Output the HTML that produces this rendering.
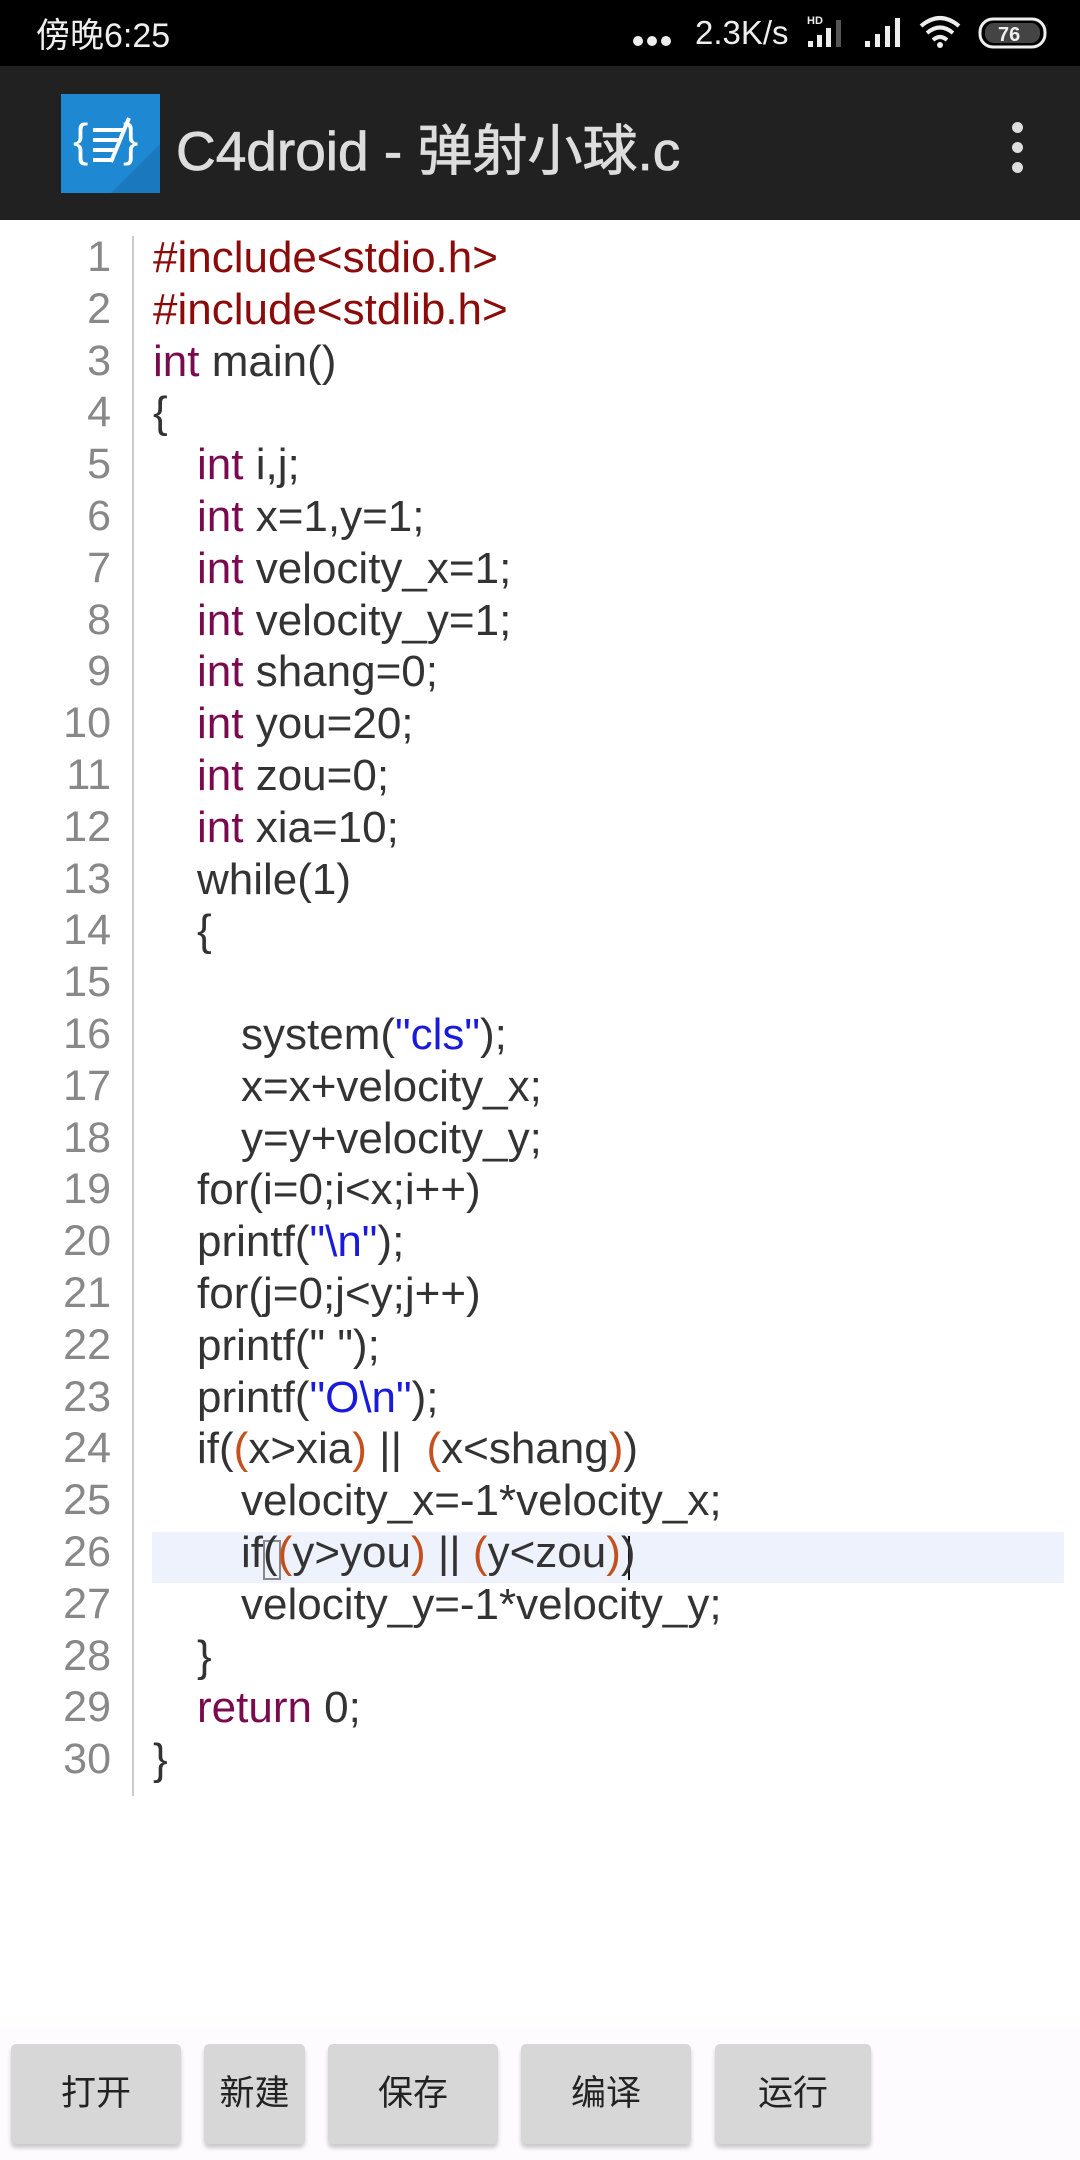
<!DOCTYPE html>
<html><head><meta charset="utf-8"><style>
*{margin:0;padding:0;box-sizing:border-box}
body{width:1080px;height:2160px;background:#fff;position:relative;overflow:hidden;font-family:"Liberation Sans","Noto Sans CJK SC",sans-serif}
.sb{position:absolute;left:0;top:0;width:1080px;height:66px;background:#000;color:#eee}
.ab{position:absolute;left:0;top:66px;width:1080px;height:154px;background:#212121}
.code{position:absolute;left:0;top:232px;width:1080px;font-size:44px;line-height:51.8px;color:#333}
.ln{position:absolute;left:0;width:111px;text-align:right;color:#888;font-size:43px}
.tx{position:absolute;left:153px;white-space:pre}
.i{display:inline-block;width:44px}.j{display:inline-block;width:88px}
.k{color:#7a0a4f}.p{color:#8b0a0a}.s{color:#1a1adb}.o{color:#c4501e}
.gut{position:absolute;left:132px;top:236px;width:2px;height:1560px;background:#ccc}
.hl{position:absolute;left:152px;top:1532px;width:912px;height:51px;background:#edf2fd}
.bb{position:absolute;left:0;top:2028px;width:1080px;height:132px;background:#fdfbfd}
.btn{position:absolute;top:2044px;height:100px;background:#d7d7d7;border-radius:5px;box-shadow:0 4px 4px rgba(0,0,0,.2);font-size:35px;color:#222;text-align:center;line-height:100px}
</style></head><body>
<div class="sb">
<div style="position:absolute;left:36px;top:8px;font-size:34px;color:#eee">傍晚6:25</div>
<div style="position:absolute;left:633px;top:36px;width:10px;height:10px;border-radius:50%;background:#eee;box-shadow:14px 0 #eee,28px 0 #eee"></div>
<div style="position:absolute;left:695px;top:14px;font-size:33px;color:#eee">2.3K/s</div>
<svg style="position:absolute;left:805px;top:14px" width="100" height="36">
<text x="2" y="10" font-size="11" fill="#eee" font-family="Liberation Sans" font-weight="bold">HD</text>
<rect x="3" y="27" width="5" height="6" fill="#eee"/><rect x="12" y="21" width="5" height="12" fill="#eee"/><rect x="21" y="14" width="5" height="19" fill="#eee"/><rect x="31" y="6" width="5" height="27" fill="#555"/>
<rect x="60" y="27" width="5" height="6" fill="#eee"/><rect x="70" y="20" width="5" height="13" fill="#eee"/><rect x="80" y="12" width="5" height="21" fill="#eee"/><rect x="90" y="4" width="5" height="29" fill="#eee"/>
</svg>
<svg style="position:absolute;left:918px;top:14px" width="130" height="40">
<path d="M3 12 Q22 -4 41 12" stroke="#eee" stroke-width="4" fill="none"/>
<path d="M9 19 Q22 8 35 19" stroke="#eee" stroke-width="4" fill="none"/>
<path d="M15 26 Q22 20 29 26" stroke="#eee" stroke-width="4" fill="none"/>
<circle cx="22" cy="31" r="3" fill="#eee"/>
<rect x="62" y="5" width="65" height="28" rx="13" fill="none" stroke="#eee" stroke-width="3"/>
<rect x="67" y="9" width="55" height="20" rx="9" fill="#444"/>
<text x="80" y="27" font-size="20" font-weight="bold" fill="#eee" font-family="Liberation Sans">76</text>
</svg>
</div>
<div class="ab">
<svg style="position:absolute;left:61px;top:28px" width="99" height="99">
<rect width="99" height="99" fill="#1e88d2"/>
<polygon points="50,99 99,50 99,99" fill="#1a78be"/>
<text x="12" y="62" font-size="46" fill="#fff" font-family="Liberation Sans">{</text>
<text x="62" y="62" font-size="46" fill="#fff" font-family="Liberation Sans">}</text>
<g stroke="#fff" stroke-width="4"><line x1="32" y1="36" x2="62" y2="36"/><line x1="32" y1="46" x2="60" y2="46"/><line x1="32" y1="56" x2="56" y2="56"/><line x1="32" y1="66" x2="52" y2="66"/><line x1="68" y1="24" x2="50" y2="68"/></g>
</svg>
<div style="position:absolute;left:176px;top:40px;font-size:55px;color:#ddd;white-space:nowrap;-webkit-text-stroke:0.8px #ddd">C4droid - 弹射小球.c</div>
<div style="position:absolute;left:1012px;top:56px;width:11px;height:11px;border-radius:50%;background:#ddd;box-shadow:0 20px #ddd,0 40px #ddd"></div>
</div>
<div class="hl"></div>
<div style="position:absolute;left:263px;top:1540px;width:18px;height:40px;border:2px solid #888"></div>
<div style="position:absolute;left:628px;top:1536px;width:2px;height:44px;background:#111"></div>
<div class="gut"></div>
<div class="code">
<div class="ln" style="top:0">1<br>2<br>3<br>4<br>5<br>6<br>7<br>8<br>9<br>10<br>11<br>12<br>13<br>14<br>15<br>16<br>17<br>18<br>19<br>20<br>21<br>22<br>23<br>24<br>25<br>26<br>27<br>28<br>29<br>30</div>
<div class="tx"><span class="p">#include&lt;stdio.h&gt;</span>
<span class="p">#include&lt;stdlib.h&gt;</span>
<span class="k">int</span> main()
{
<span class="i"></span><span class="k">int</span> i,j;
<span class="i"></span><span class="k">int</span> x=1,y=1;
<span class="i"></span><span class="k">int</span> velocity_x=1;
<span class="i"></span><span class="k">int</span> velocity_y=1;
<span class="i"></span><span class="k">int</span> shang=0;
<span class="i"></span><span class="k">int</span> you=20;
<span class="i"></span><span class="k">int</span> zou=0;
<span class="i"></span><span class="k">int</span> xia=10;
<span class="i"></span>while(1)
<span class="i"></span>{

<span class="j"></span>system(<span class="s">"cls"</span>);
<span class="j"></span>x=x+velocity_x;
<span class="j"></span>y=y+velocity_y;
<span class="i"></span>for(i=0;i&lt;x;i++)
<span class="i"></span>printf(<span class="s">"\n"</span>);
<span class="i"></span>for(j=0;j&lt;y;j++)
<span class="i"></span>printf(" ");
<span class="i"></span>printf(<span class="s">"O\n"</span>);
<span class="i"></span>if(<span class="o">(</span>x&gt;xia<span class="o">)</span> ||  <span class="o">(</span>x&lt;shang<span class="o">)</span>)
<span class="j"></span>velocity_x=-1*velocity_x;
<span class="j"></span>if(<span class="o">(</span>y&gt;you<span class="o">)</span> || <span class="o">(</span>y&lt;zou<span class="o">)</span>)
<span class="j"></span>velocity_y=-1*velocity_y;
<span class="i"></span>}
<span class="i"></span><span class="k">return</span> 0;
}</div>
</div>
<div class="bb"></div>
<div class="btn" style="left:11px;width:170px">打开</div>
<div class="btn" style="left:204px;width:101px">新建</div>
<div class="btn" style="left:328px;width:170px">保存</div>
<div class="btn" style="left:521px;width:170px">编译</div>
<div class="btn" style="left:715px;width:156px">运行</div>
</body></html>
